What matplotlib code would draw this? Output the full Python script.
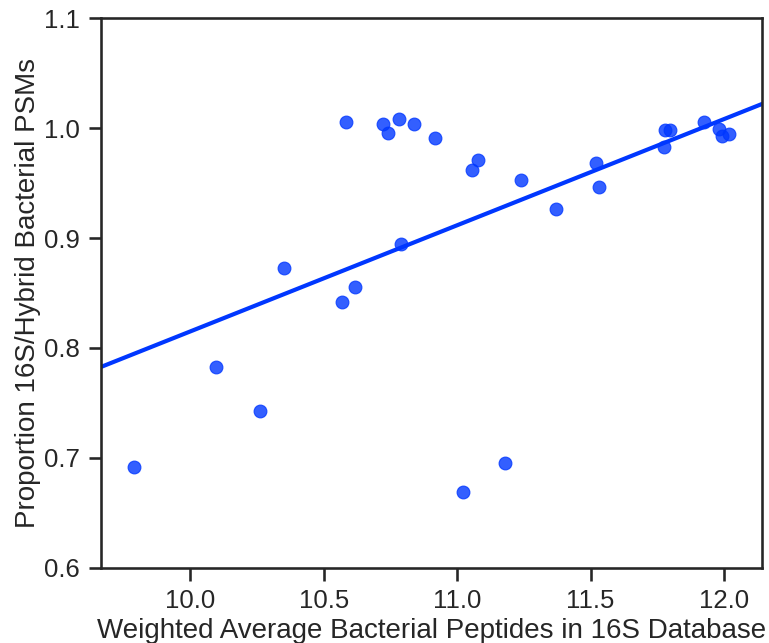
import numpy as np
import matplotlib
matplotlib.use("Agg")
import matplotlib.pyplot as plt
import seaborn as sns

x_vals = [9.787, 10.096, 10.261, 10.351, 10.568, 10.618, 10.584, 10.721, 10.739,
          10.782, 10.789, 10.837, 10.918, 11.056, 11.079, 11.023, 11.180, 11.238,
          11.369, 11.521, 11.533, 11.776, 11.779, 11.798, 11.925, 11.981, 11.991,
          12.018]
y_vals = [0.6914, 0.7823, 0.7429, 0.8730, 0.8418, 0.8559, 1.0056, 1.0037, 0.9953,
          1.0083, 0.8943, 1.0037, 0.9907, 0.9619, 0.9710, 0.6689, 0.6955, 0.9530,
          0.9264, 0.9685, 0.9464, 0.9825, 0.9983, 0.9983, 1.0058, 0.9989, 0.9928,
          0.9944]
x_ticks = [10.0, 10.5, 11.0, 11.5, 12.0]
y_ticks = [0.6, 0.7, 0.8, 0.9, 1.0, 1.1]

sns.set_theme(context="talk", style="ticks")
plt.rcParams['font.family'] = ['Liberation Sans', 'DejaVu Sans']

fig = plt.figure(figsize=(7.69, 6.43), dpi=100)
ax = fig.add_axes([0.1313, 0.1171, 0.9909 - 0.1313, 0.9715 - 0.1171])

color = "#0037ff"
ax.scatter(x_vals, y_vals, s=85, color=color, alpha=0.8, linewidths=0.8,
           edgecolors=color, zorder=3)

xlim = (9.665, 12.142)
coef = np.polyfit(x_vals, y_vals, 1)
xs = np.array(xlim)
ax.plot(xs, np.polyval(coef, xs), color=color, lw=3, zorder=2)

ax.set_xlim(*xlim)
ax.set_ylim(0.6, 1.1)
ax.set_xticks(x_ticks)
ax.set_yticks(y_ticks)
ax.tick_params(labelsize=18.5, colors="#262626", pad=6)
ax.set_xlabel("Weighted Average Bacterial Peptides in 16S Database", color="#262626",
              fontsize=20, labelpad=4)
ax.set_ylabel("Proportion 16S/Hybrid Bacterial PSMs", color="#262626",
              fontsize=20, labelpad=2)

fig.savefig("out.png", dpi=100)
